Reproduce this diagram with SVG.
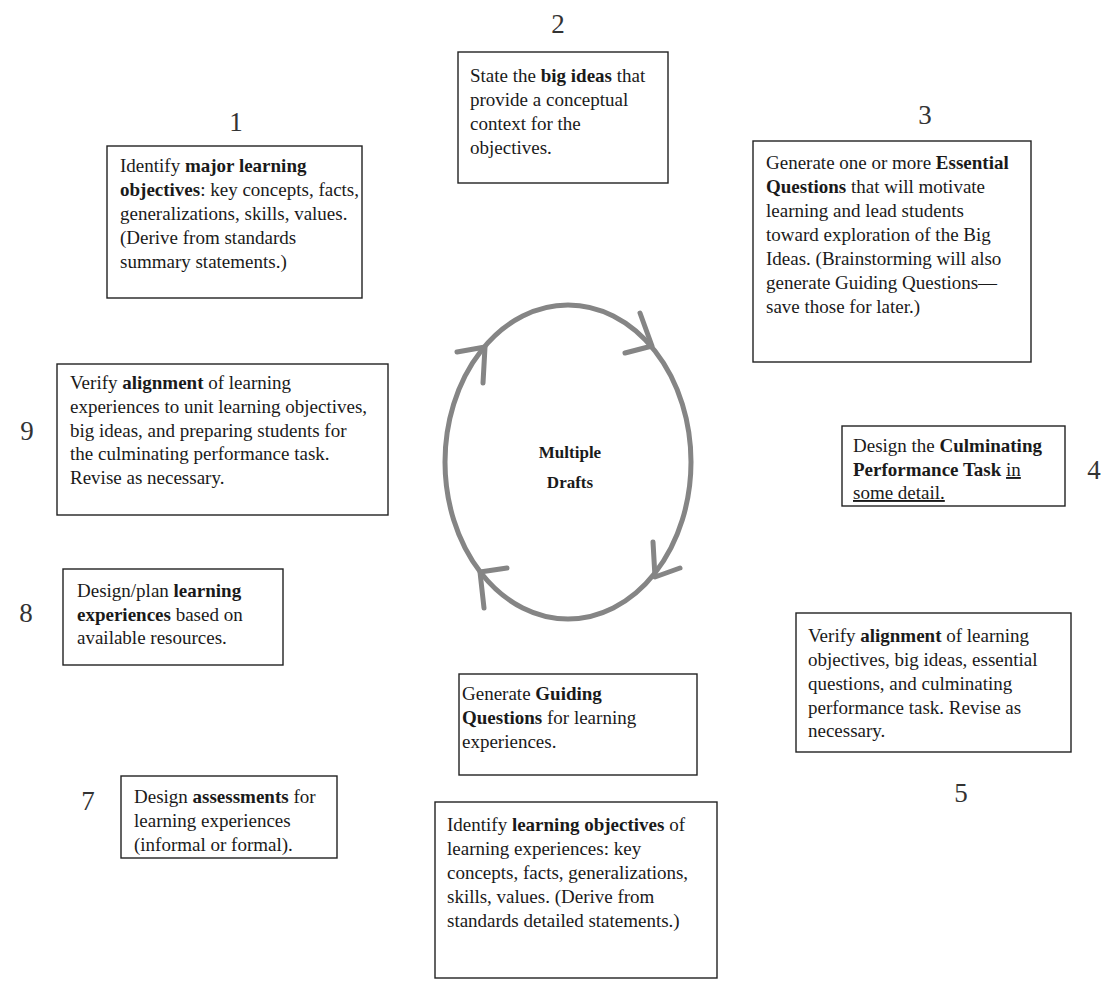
<svg xmlns="http://www.w3.org/2000/svg" width="1104" height="981" viewBox="0 0 1104 981">
<style>
text{font-family:"Liberation Serif","Times New Roman",serif;fill:#1a1a1a;font-size:19px}
.num{font-size:27px;text-anchor:middle;fill:#333}
.box{fill:#fff;stroke:#222;stroke-width:1.4}
.b{font-weight:bold}
.u{text-decoration:underline}
.ring{fill:none;stroke:#858585;stroke-width:5;stroke-linecap:round;stroke-linejoin:round}
</style>
<rect width="1104" height="981" fill="#fff"/>
<g id="connectors">
<ellipse class="ring" cx="568" cy="462" rx="123" ry="157"/>
<polyline class="ring" points="457,352 485,347 483,383"/>
<polyline class="ring" points="640,313 652,346 625,353"/>
<polyline class="ring" points="653,542 655,577 680,568"/>
<polyline class="ring" points="507,568 480,572 484,608"/>
<text x="570" y="458" text-anchor="middle" class="b" style="font-size:17px">Multiple</text>
<text x="570" y="488" text-anchor="middle" class="b" style="font-size:17px">Drafts</text>
</g>
<g id="node1">
<text class="num" x="236" y="131">1</text>
<rect class="box" x="107" y="146" width="255" height="152"/>
<text x="120" y="172">Identify <tspan class="b">major learning</tspan></text>
<text x="120" y="196"><tspan class="b">objectives</tspan>: key concepts, facts,</text>
<text x="120" y="220">generalizations, skills, values.</text>
<text x="120" y="244">(Derive from standards</text>
<text x="120" y="268">summary statements.)</text>
</g>
<g id="node2">
<text class="num" x="558" y="33">2</text>
<rect class="box" x="458" y="52" width="210" height="131"/>
<text x="470" y="82">State the <tspan class="b">big ideas</tspan> that</text>
<text x="470" y="106">provide a conceptual</text>
<text x="470" y="130">context for the</text>
<text x="470" y="154">objectives.</text>
</g>
<g id="node3">
<text class="num" x="925" y="124">3</text>
<rect class="box" x="753" y="141" width="278" height="221"/>
<text x="766" y="169">Generate one or more <tspan class="b">Essential</tspan></text>
<text x="766" y="193"><tspan class="b">Questions</tspan> that will motivate</text>
<text x="766" y="217">learning and lead students</text>
<text x="766" y="241">toward exploration of the Big</text>
<text x="766" y="265">Ideas.  (Brainstorming will also</text>
<text x="766" y="289">generate Guiding Questions—</text>
<text x="766" y="313">save those for later.)</text>
</g>
<g id="node4">
<text class="num" x="1094" y="479">4</text>
<rect class="box" x="842" y="426" width="223" height="80"/>
<text x="853" y="452">Design the <tspan class="b">Culminating</tspan></text>
<text x="853" y="476"><tspan class="b">Performance Task</tspan> <tspan class="u">in</tspan></text>
<text x="853" y="499" class="u">some detail.</text>
</g>
<g id="node5">
<text class="num" x="961" y="802">5</text>
<rect class="box" x="796" y="613" width="275" height="139"/>
<text x="808" y="642">Verify <tspan class="b">alignment</tspan> of learning</text>
<text x="808" y="666">objectives, big ideas, essential</text>
<text x="808" y="690">questions, and culminating</text>
<text x="808" y="714">performance task.  Revise as</text>
<text x="808" y="737">necessary.</text>
</g>
<g id="node6">
<rect class="box" x="459" y="674" width="238" height="101"/>
<text x="462" y="700">Generate <tspan class="b">Guiding</tspan></text>
<text x="462" y="724"><tspan class="b">Questions</tspan> for learning</text>
<text x="462" y="748">experiences.</text>
</g>
<g id="node6b">
<rect class="box" x="435" y="802" width="282" height="176"/>
<text x="447" y="831">Identify <tspan class="b">learning objectives</tspan> of</text>
<text x="447" y="855">learning experiences: key</text>
<text x="447" y="879">concepts, facts, generalizations,</text>
<text x="447" y="903">skills, values. (Derive from</text>
<text x="447" y="927">standards detailed statements.)</text>
</g>
<g id="node7">
<text class="num" x="88" y="810">7</text>
<rect class="box" x="121" y="776" width="216" height="82"/>
<text x="134" y="803">Design <tspan class="b">assessments</tspan> for</text>
<text x="134" y="827">learning experiences</text>
<text x="134" y="851">(informal or formal).</text>
</g>
<g id="node8">
<text class="num" x="26" y="622">8</text>
<rect class="box" x="63" y="569" width="220" height="96"/>
<text x="77" y="597">Design/plan <tspan class="b">learning</tspan></text>
<text x="77" y="621"><tspan class="b">experiences</tspan> based on</text>
<text x="77" y="644">available resources.</text>
</g>
<g id="node9">
<text class="num" x="27" y="440">9</text>
<rect class="box" x="57" y="364" width="331" height="151"/>
<text x="70" y="389">Verify <tspan class="b">alignment</tspan> of learning</text>
<text x="70" y="413">experiences to unit learning objectives,</text>
<text x="70" y="437">big ideas, and preparing students for</text>
<text x="70" y="460">the culminating performance task.</text>
<text x="70" y="484">Revise as necessary.</text>
</g>
</svg>
